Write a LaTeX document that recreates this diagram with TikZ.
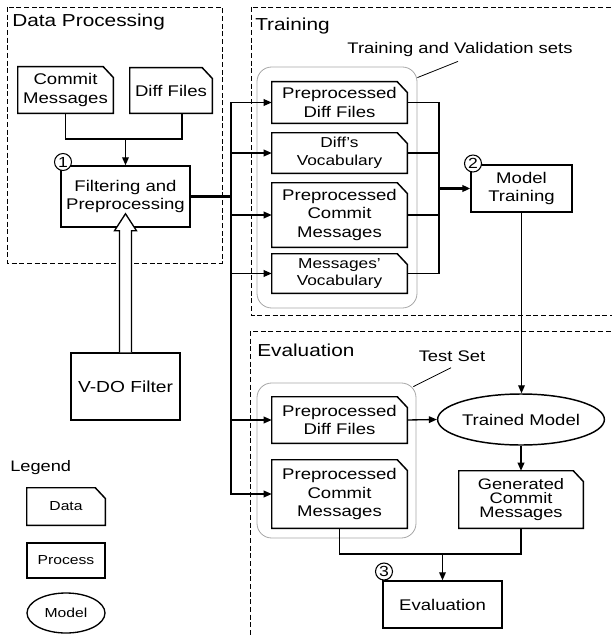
\documentclass[tikz,border=0pt]{standalone}
\usepackage{fontspec}
\setmainfont{Liberation Sans}[FakeStretch=1.2]
\usetikzlibrary{shapes.geometric,arrows.meta,calc}
\newcommand\mybx{\fontsize{11.6}{13.8}\selectfont}
\newcommand\myvoc{\fontsize{10.8}{13.2}\selectfont}
\newcommand\mygcm{\fontsize{11.4}{10.8}\selectfont}
\newcommand\mytitle{\fontsize{13}{15}\selectfont}
\newcommand\mylbl{\fontsize{11.5}{13}\selectfont}
\newcommand\myvdo{\fontsize{12}{14}\selectfont}
\newcommand\mylg{\fontsize{11.4}{13}\selectfont}
\newcommand\mylgs{\fontsize{9.8}{12}\selectfont}
\newcommand\mynum{\fontsize{11}{12}\selectfont}
\begin{document}
\begin{tikzpicture}[x=0.75pt,y=-0.75pt,
  sect/.style={draw, dash pattern=on 3.75pt off 2pt, line width=0.7pt},
  grp/.style={rectangle, draw=gray!70, line width=0.6pt, rounded corners=11pt},
  doc/.style={rectangle, align=center, inner sep=1pt, font=\mybx,
    append after command={\pgfextra{\draw[line width=1.1pt, line join=miter]
      (\tikzlastnode.south west) -- (\tikzlastnode.south east)
      -- ([yshift=-8pt]\tikzlastnode.north east)
      -- ([xshift=-7.5pt]\tikzlastnode.north east)
      -- (\tikzlastnode.north west) -- cycle;}}},
  proc/.style={rectangle, draw, line width=1.1pt, fill=white, align=center, font=\mybx},
  model/.style={ellipse, draw, line width=1.1pt, fill=white, align=center, font=\mybx, inner sep=0pt},
  num/.style={circle, draw, line width=0.8pt, fill=white, inner sep=0pt, minimum size=12.75pt, font=\mynum},
  title/.style={anchor=base west, inner sep=0pt, font=\mytitle},
  conn/.style={line width=1pt},
  arr/.style={conn, -{Triangle[length=6pt,width=5pt]}},
]
\useasboundingbox (0,0) rectangle (611,635);

% section frames
\draw[sect] (7,7) rectangle (222,263);
\draw[sect] (251,7) rectangle (625,315);
\draw[sect] (250,331) rectangle (625,650);
\node[title] (tdp) at (12,27) {Data Processing};
\node[title] (ttr) at (255,31) {Training};
\node[title] (tev) at (257,356) {Evaluation};

% groups
\node[grp, minimum width=120pt, minimum height=180.75pt] (g1) at (337,187.5) {};
\node[grp, minimum width=119.25pt, minimum height=116.25pt] (g2) at (336.5,460.5) {};
\node[font=\mylbl, inner sep=0pt] (tvl) at (460,50) {Training and Validation sets};
\node[font=\mylbl, inner sep=0pt] (tsl) at (452,356) {Test Set};
\draw[line width=0.6pt] ($(g1.north east)+(0,11)$) -- ($(tvl.south)+(-2,4)$);
\draw[line width=0.6pt] ($(g2.north east)+(-3,4)$) -- ($(tsl.south)+(-1,6)$);

% data processing
\node[doc, minimum width=71.25pt, minimum height=34.5pt] (cm) at (65.5,90) {Commit\\Messages};
\node[doc, minimum width=61.5pt, minimum height=33.75pt] (df) at (171,90.5) {Diff Files};
\node[proc, minimum width=96.75pt, minimum height=45.75pt] (filt) at (125.5,196.5) {Filtering and\\Preprocessing};
\node[proc, minimum width=81.75pt, minimum height=50.25pt, font=\myvdo] (vdo) at (125.5,386.5) {V-DO Filter};

% training
\node[doc, minimum width=101.25pt, minimum height=30.75pt] (pd1) at (339.5,102.5) {Preprocessed\\Diff Files};
\node[doc, minimum width=101.25pt, minimum height=30pt, font=\myvoc] (dv) at (339.5,153) {Diff's\\Vocabulary};
\node[doc, minimum width=101.25pt, minimum height=48pt] (pc1) at (339.5,215) {Preprocessed\\Commit\\Messages};
\node[doc, minimum width=101.25pt, minimum height=29.25pt, font=\myvoc] (mv) at (339.5,273.5) {Messages'\\Vocabulary};
\node[proc, minimum width=75.75pt, minimum height=35.25pt] (mt) at (521.5,188.5) {Model\\Training};

% evaluation
\node[doc, minimum width=101.25pt, minimum height=34.5pt] (pd2) at (339.5,420) {Preprocessed\\Diff Files};
\node[doc, minimum width=101.25pt, minimum height=51pt] (pc2) at (339.5,494) {Preprocessed\\Commit\\Messages};
\node[model, minimum width=123pt, minimum height=38.25pt] (tm) at (521,419.5) {Trained Model};
\node[doc, minimum width=93pt, minimum height=42.75pt, font=\mygcm] (gcm) at (521,499.5) {Generated\\Commit\\Messages};
\node[proc, minimum width=89.25pt, minimum height=35.25pt] (ev) at (442.5,604.5) {Evaluation};

% legend
\node[anchor=base west, inner sep=0pt, font=\mylg] (lg) at (10,471) {Legend};
\node[doc, minimum width=58.5pt, minimum height=27.75pt, font=\mylgs] (ld) at (66,506.5) {Data};
\node[proc, minimum width=58.5pt, minimum height=26.25pt, font=\mylgs, line width=1pt] (lp) at (66,560.5) {Process};
\node[model, minimum width=58.5pt, minimum height=30pt, font=\mylgs, line width=1pt] (lm) at (66,613) {Model};

% connectors: data processing
\coordinate (j1) at (125.5,139);
\draw[conn] (cm.south) |- (j1);
\draw[conn] ($(df.south)+(11,0)$) |- (j1);
\draw[arr] (j1) -- (j1 |- filt.north);

% bus
\coordinate (bus) at (231,196.5);
\draw[line width=2pt] (filt.east) -- (bus);
\draw[arr] (bus) |- (pd1.west);
\draw[arr] (bus) |- (dv.west);
\draw[arr] (bus) |- (pc1.west);
\draw[arr] (bus) |- (mv.west);
\draw[arr] (bus) |- (pd2.west);
\draw[arr] (bus) |- (pc2.west);

% training merge
\coordinate (tj) at (439,188.5);
\draw[conn] (pd1.east) -| (tj);
\draw[conn] (dv.east) -| (tj);
\draw[conn] (pc1.east) -| (tj);
\draw[conn] (mv.east) -| (tj);
\draw[arr, line width=1.6pt] (tj) -- (mt.west);

% evaluation
\draw[arr] (mt.south) -- (mt.south |- tm.north);
\draw[arr] (pd2.east) -- (tm.west);
\draw[arr] (tm.south) -- (gcm.north);
\coordinate (ej) at (442.5,554);
\draw[conn] (pc2.south) |- (ej);
\draw[conn] (gcm.south) |- (ej);
\draw[arr] (ej) -- (ev.north);

% open arrow from V-DO filter
\draw[line width=1pt, fill=white] ($(vdo.north)+(-6,0)$) -- ($(filt.south)+(-6,3)$) -- ($(filt.south)+(-11,3)$) -- ($(filt.south)+(0,-14)$) -- ($(filt.south)+(11,3)$) -- ($(filt.south)+(6,3)$) -- ($(vdo.north)+(6,0)$);

% step numbers
\node[num] (n1) at (63,162) {1};
\node[num] (n2) at (473,163.5) {2};
\node[num] (n3) at (384,571.5) {3};
\end{tikzpicture}
\end{document}
